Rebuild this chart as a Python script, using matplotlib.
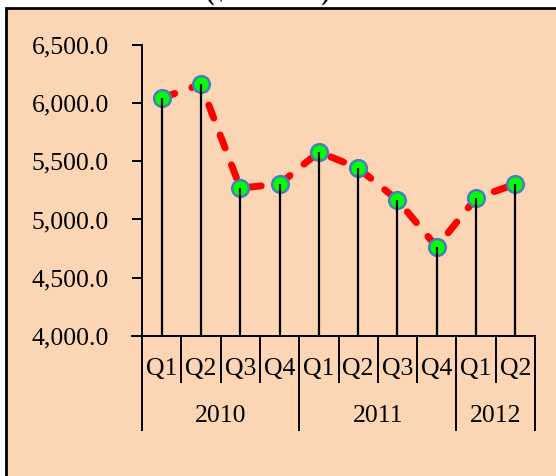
import matplotlib
matplotlib.use("Agg")
import matplotlib.pyplot as plt
import matplotlib.transforms as mtransforms
from matplotlib.patches import Rectangle

plt.rcParams['font.family'] = ['Liberation Serif', 'DejaVu Serif']

# 数据：季度值（$ millions）
years = ['2010', '2011', '2012']
quarters_per_year = [4, 4, 2]
quarters = ['Q1', 'Q2', 'Q3', 'Q4', 'Q1', 'Q2', 'Q3', 'Q4', 'Q1', 'Q2']
values = [6042, 6160, 5270, 5304, 5579, 5441, 5167, 4764, 5184, 5304]
y_ticks = [4000, 4500, 5000, 5500, 6000, 6500]

W, H = 556, 476
FS = 18.5
fig = plt.figure(figsize=(W / 100, H / 100), dpi=100, facecolor='white')

# 外框（右边和下边超出画面）
fig.patches.append(Rectangle((6 / W, -0.1), 1.2, (H - 8) / H + 0.1,
                             transform=fig.transFigure, facecolor='#FCD5B4',
                             edgecolor='black', linewidth=2, zorder=-1))

fig.text(268 / W, 1 - 5 / H, '($ millions)', ha='center', va='bottom',
         fontsize=FS, fontweight='bold')

ax = fig.add_axes([142 / W, 1 - 336 / H, (535 - 142) / W, (336 - 44.7) / H])
ax.set_facecolor('none')

x = list(range(len(values)))
ax.plot(x, values, color='red', linewidth=5, dashes=(2.0, 2.6),
        dash_capstyle='round', solid_capstyle='round', zorder=2)
ax.plot(x, values, linestyle='none', marker='o', markersize=12,
        markerfacecolor='#00FF00', markeredgecolor='#4A7EBB',
        markeredgewidth=1.8, zorder=3)
ax.vlines(x, y_ticks[0], values, color='black', linewidth=1.6, zorder=4)

ax.set_xlim(-0.5, len(values) - 0.5)
ax.set_ylim(y_ticks[0], y_ticks[-1])
ax.set_yticks(y_ticks)
ax.set_yticklabels([f'{v:,.1f}' for v in y_ticks])
ax.tick_params(axis='y', direction='out', length=7.2, width=1.4, pad=16.5,
               labelsize=FS)
ax.set_xticks([])
for s in ['top', 'right']:
    ax.spines[s].set_visible(False)
for s in ['left', 'bottom']:
    ax.spines[s].set_linewidth(1.4)

# 多级分类轴：季度 + 年份
trans = mtransforms.blended_transform_factory(ax.transData, fig.transFigure)
y_axis = 1 - 336 / H
y_q = 1 - 382 / H
y_year = 1 - 430 / H
ax.plot([-0.5 - 10 / 39.3, -0.5], [y_axis, y_axis], color='black', lw=1.4,
        transform=trans, clip_on=False)

year_edges = [-0.5]
for n in quarters_per_year:
    year_edges.append(year_edges[-1] + n)

for i in range(len(quarters) + 1):
    edge = i - 0.5
    bottom = y_year if edge in year_edges else y_q
    ax.plot([edge, edge], [y_axis, bottom], color='black', lw=1.4,
            transform=trans, clip_on=False)

for i, q in enumerate(quarters):
    ax.text(i, 1 - 369 / H, q, ha='center', va='center', fontsize=FS,
            transform=trans)

for yr, a, b in zip(years, year_edges[:-1], year_edges[1:]):
    ax.text((a + b) / 2, 1 - 416 / H, yr, ha='center', va='center',
            fontsize=FS, transform=trans)

fig.savefig('out.png', dpi=100, facecolor='white')
